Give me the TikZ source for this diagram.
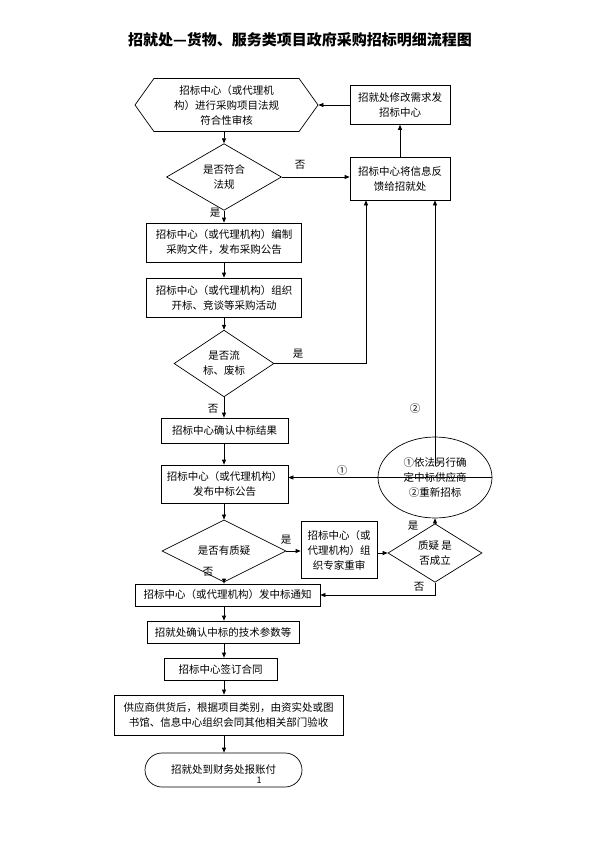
\documentclass[tikz,border=0pt]{standalone}
\usepackage{fontspec}
\setmainfont{Noto Sans CJK SC}
\usetikzlibrary{shapes.geometric,shapes.misc,shapes.symbols,arrows.meta}

\begin{document}
\begin{tikzpicture}
  [x=1pt,y=-1pt,line width=0.7pt,
   every node/.style={font=\fontsize{10.5}{15}\selectfont,align=center,inner sep=0pt},
   box/.style={draw,rectangle},
   decide/.style={draw,diamond},
   arr/.style={-{Triangle[length=5pt,width=4pt]}}]
  \useasboundingbox (0,0) rectangle (596,843);
  \node (title) at (300,40) {\fontsize{15}{18}\selectfont\bfseries 招就处—货物、服务类项目政府采购招标明细流程图};

  \node[draw,signal,signal to=west and east,signal pointer angle=109,
        minimum width=183pt,minimum height=53pt] (hex) at (226.5,105)
        {招标中心（或代理机\\构）进行采购项目法规\\符合性审核};
  \node[box,minimum width=100pt,minimum height=39pt] (revise) at (400,105) {招就处修改需求发\\招标中心};
  \node[decide,minimum width=115pt,minimum height=60pt] (legal) at (224,177) {是否符合\\法规};
  \node[box,minimum width=100pt,minimum height=43pt] (feedback) at (400,178.5) {招标中心将信息反\\馈给招就处};
  \node[box,minimum width=155pt,minimum height=39pt] (compile) at (224,242.5) {招标中心（或代理机构）编制\\采购文件，发布采购公告};
  \node[box,minimum width=155pt,minimum height=39pt] (open) at (224,297.5) {招标中心（或代理机构）组织\\开标、竞谈等采购活动};
  \node[decide,minimum width=100pt,minimum height=61pt] (fail) at (224,363.5) {是否流\\标、废标};
  \node[box,minimum width=127pt,minimum height=25pt] (confirm) at (224.5,430.5) {招标中心确认中标结果};
  \node[box,minimum width=127pt,minimum height=38pt] (publish) at (224.5,484) {招标中心（或代理机构）\\发布中标公告};
  \node[draw,ellipse,minimum width=114pt,minimum height=81pt] (redo) at (435,477.5)
        {①依法另行确\\定中标供应商\\②重新招标};
  \node[decide,minimum width=124pt,minimum height=35pt] (doubt) at (224,551) {是否有质疑};
  \node[box,minimum width=76pt,minimum height=57pt] (review) at (339,550) {招标中心（或\\代理机构）组\\织专家重审};
  \node[decide,minimum width=94pt,minimum height=58pt] (valid) at (435,553) {质疑 是\\否成立};
  \node[box,minimum width=185pt,minimum height=22pt] (notice) at (227.5,595) {招标中心（或代理机构）发中标通知};
  \node[box,minimum width=152pt,minimum height=22pt] (params) at (223,632) {招就处确认中标的技术参数等};
  \node[box,minimum width=113pt,minimum height=22pt] (contract) at (220.5,669) {招标中心签订合同};
  \node[box,minimum width=229pt,minimum height=40pt] (accept) at (228.5,715)
        {供应商供货后，根据项目类别，由资实处或图\\书馆、信息中心组织会同其他相关部门验收};
  \node[draw,rounded rectangle,minimum width=157pt,minimum height=34pt] (pay) at (223.5,770) {招就处到财务处报账付};
  \node (page) at (259,780) {\fontsize{9}{9}\selectfont 1};

  % main column
  \coordinate (col) at (224,0);
  \foreach \from/\to in {hex/legal,legal/compile,compile/open,open/fail,fail/confirm,
                         confirm/publish,publish/doubt,doubt/notice,notice/params,
                         params/contract,contract/accept,accept/pay}
    \draw[arr] (col |- \from.south) -- (col |- \to.north);

  % side branches
  \draw[arr] (revise.west) -- (hex.east);
  \draw[arr] (legal.east) -- (legal.east -| feedback.west);
  \draw[arr] (feedback.north) -- (revise.south);
  \draw[arr] (fail.east) -| ([xshift=-34pt]feedback.south);
  \draw[arr] ([yshift=12pt]redo.center) -- (redo.center |- feedback.south);
  \draw[arr] (redo.east) -- (redo.east -| publish.east);
  \draw[arr] (doubt.east) -- (doubt.east -| review.west);
  \draw[arr] (review.east |- valid.west) -- (valid.west);
  \draw[arr] (valid.north) -- (redo.south);
  \draw[arr] (valid.south) |- (notice.east);

  % labels
  \node at (300,165) {否};
  \node at (215,213) {是};
  \node at (298,354) {是};
  \node at (213,409) {否};
  \node at (415,409) {②};
  \node at (342,471) {①};
  \node at (286,540) {是};
  \node at (413,526) {是};
  \node at (208,572) {否};
  \node at (419,587) {否};
\end{tikzpicture}
\end{document}
